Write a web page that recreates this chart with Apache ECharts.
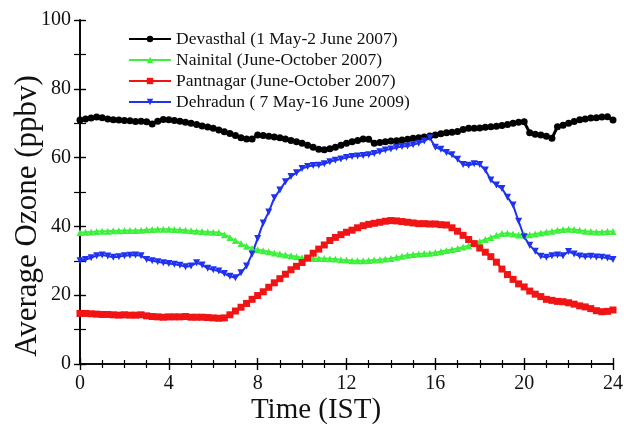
<!DOCTYPE html>
<html>
<head>
    <meta charset="UTF-8">
    <script src="https://cdn.jsdelivr.net/npm/echarts@6/dist/echarts.min.js"></script>
    <style>
        html, body { margin: 0; padding: 0; background: #fff; }
    </style>
</head>
<body>
<div id="main" style="width: 626px;height:427px;"></div>
<script>
    // time of day (IST), quarter-hour steps
    var hours = [0, 0.25, 0.5, 0.75, 1, 1.25, 1.5, 1.75, 2, 2.25, 2.5, 2.75, 3, 3.25, 3.5, 3.75,
        4, 4.25, 4.5, 4.75, 5, 5.25, 5.5, 5.75, 6, 6.25, 6.5, 6.75, 7, 7.25, 7.5, 7.75,
        8, 8.25, 8.5, 8.75, 9, 9.25, 9.5, 9.75, 10, 10.25, 10.5, 10.75, 11, 11.25, 11.5, 11.75,
        12, 12.25, 12.5, 12.75, 13, 13.25, 13.5, 13.75, 14, 14.25, 14.5, 14.75, 15, 15.25, 15.5, 15.75,
        16, 16.25, 16.5, 16.75, 17, 17.25, 17.5, 17.75, 18, 18.25, 18.5, 18.75, 19, 19.25, 19.5, 19.75,
        20, 20.25, 20.5, 20.75, 21, 21.25, 21.5, 21.75, 22, 22.25, 22.5, 22.75, 23, 23.25, 23.5, 23.75, 24];

    var devasthal = [70.9, 71.2, 71.5, 71.8, 71.6, 71.2, 71.0, 70.9, 70.8, 70.7, 70.5, 70.6, 70.4, 69.8, 70.6, 71.1,
        71.0, 70.8, 70.6, 70.3, 70.0, 69.6, 69.2, 68.9, 68.5, 68.0, 67.5, 67.0, 66.4, 65.8, 65.4, 65.4,
        66.6, 66.4, 66.2, 66.0, 65.8, 65.4, 65.0, 64.6, 64.2, 63.6, 63.0, 62.4, 62.3, 62.6, 63.0, 63.6,
        64.2, 64.6, 65.0, 65.4, 65.3, 64.2, 64.4, 64.6, 64.8, 64.9, 65.1, 65.3, 65.6, 65.8, 66.0, 66.3,
        66.6, 66.9, 67.2, 67.4, 67.6, 68.2, 68.5, 68.5, 68.6, 68.8, 69.0, 69.1, 69.3, 69.6, 70.0, 70.3,
        70.4, 67.2, 66.8, 66.6, 66.2, 65.6, 69.0, 69.4, 70.0, 70.5, 71.0, 71.2, 71.5, 71.6, 71.8, 71.9, 70.9];

    var nainital = [38.2, 38.3, 38.4, 38.5, 38.6, 38.6, 38.7, 38.7, 38.8, 38.8, 38.8, 38.9, 39.0, 39.1, 39.2, 39.2,
        39.2, 39.1, 39.0, 38.9, 38.7, 38.6, 38.5, 38.4, 38.3, 38.2, 37.6, 36.8, 35.9, 35.0, 34.2, 33.6,
        33.2, 32.9, 32.6, 32.3, 32.0, 31.7, 31.5, 31.2, 30.9, 30.8, 30.7, 30.7, 30.7, 30.6, 30.5, 30.3,
        30.2, 30.0, 30.0, 30.0, 30.1, 30.2, 30.3, 30.5, 30.7, 31.0, 31.3, 31.6, 31.8, 32.0, 32.1, 32.2,
        32.4, 32.7, 33.0, 33.3, 33.6, 34.0, 34.4, 35.0, 35.6, 36.2, 36.8, 37.4, 37.9, 38.0, 37.8, 37.5,
        37.5, 37.6, 37.8, 38.1, 38.4, 38.6, 38.9, 39.1, 39.2, 39.1, 38.9, 38.6, 38.5, 38.4, 38.4, 38.5, 38.5];

    var pantnagar = [14.7, 14.7, 14.6, 14.5, 14.4, 14.4, 14.3, 14.2, 14.3, 14.2, 14.2, 14.3, 14.0, 13.8, 13.7, 13.6,
        13.7, 13.7, 13.7, 13.8, 13.6, 13.6, 13.6, 13.5, 13.4, 13.3, 13.4, 14.3, 15.4, 16.5, 17.6, 18.8,
        19.9, 21.0, 22.3, 23.6, 24.8, 26.1, 27.4, 28.4, 29.5, 30.8, 32.2, 33.4, 34.6, 35.9, 36.8, 37.6,
        38.3, 38.9, 39.6, 40.2, 40.6, 40.9, 41.2, 41.5, 41.7, 41.6, 41.4, 41.2, 41.0, 40.8, 40.8, 40.7,
        40.7, 40.5, 40.4, 39.6, 38.6, 37.4, 36.2, 35.0, 33.7, 32.5, 31.2, 29.6, 27.6, 26.0, 24.6, 23.3,
        22.4, 21.2, 20.3, 19.6, 18.8, 18.5, 18.2, 18.1, 17.8, 17.4, 16.9, 16.6, 16.1, 15.5, 15.2, 15.3, 15.7];

    var dehradun = [30.0, 30.4, 30.9, 31.5, 31.7, 31.4, 31.0, 31.2, 31.5, 31.6, 31.7, 31.5, 30.4, 30.0, 29.7, 29.4,
        29.2, 29.0, 28.7, 28.3, 28.5, 29.4, 28.8, 27.8, 27.4, 27.0, 26.3, 25.5, 25.1, 26.5, 28.5, 32.0,
        36.5, 41.0, 44.2, 48.3, 50.6, 53.0, 54.5, 55.6, 56.8, 57.4, 57.7, 57.8, 58.2, 58.8, 59.2, 59.6,
        60.0, 60.3, 60.5, 60.6, 60.8, 61.2, 61.7, 62.2, 62.5, 62.9, 63.2, 63.4, 63.7, 64.2, 64.8, 65.8,
        63.0, 62.4, 61.5, 60.8, 59.5, 58.0, 57.8, 58.2, 58.0, 56.4, 53.5, 52.0, 51.0, 48.5, 46.2, 41.5,
        37.0, 34.5, 32.8, 31.3, 31.0, 31.5, 31.7, 31.5, 32.7, 32.0, 31.4, 31.2, 31.3, 31.1, 31.0, 30.8, 30.4];

    var seriesNames = ['Devasthal (1 May-2 June 2007)', 'Nainital (June-October 2007)',
        'Pantnagar (June-October 2007)', 'Dehradun ( 7 May-16 June 2009)'];

    function pairs(vals) {
        return vals.map(function (v, i) { return [hours[i], v]; });
    }

    var font = 'Liberation Serif';
    var downTri = 'path://M0,0 L10,0 L5,9 Z';

    var axisCommon = {
        type: 'value',
        axisLine: {show: true, lineStyle: {color: '#000', width: 1.6}},
        axisTick: {show: true, inside: true, length: 6, lineStyle: {color: '#000', width: 1.4}},
        minorTick: {show: true, length: 4, lineStyle: {color: '#000', width: 1.2}},
        splitLine: {show: false}
    };

    var myChart = echarts.init(document.getElementById('main'));
    var option = {
        animation: false,
        backgroundColor: '#fff',
        grid: {left: 80, right: 11, top: 20, bottom: 63},
        legend: {
            orient: 'vertical',
            left: 123,
            top: 25,
            itemWidth: 42,
            itemHeight: 8,
            itemGap: 3,
            textStyle: {fontFamily: font, fontSize: 17.5, color: '#111'},
            data: seriesNames
        },
        graphic: [
            {
                type: 'text', x: 316, y: 410,
                style: {text: 'Time (IST)', font: '29px "Liberation Serif"', fill: '#111',
                    textAlign: 'center', textVerticalAlign: 'middle'}
            },
            {
                type: 'text', x: 28, y: 216, rotation: Math.PI / 2,
                style: {text: 'Average Ozone (ppbv)', font: '31px "Liberation Serif"', fill: '#111',
                    textAlign: 'center', textVerticalAlign: 'middle'}
            }
        ],
        xAxis: [
            Object.assign({}, axisCommon, {
                min: 0, max: 24, interval: 4,
                minorTick: Object.assign({}, axisCommon.minorTick, {splitNumber: 4}),
                axisLabel: {fontFamily: font, fontSize: 20, color: '#111', margin: 10}
            }),
            Object.assign({}, axisCommon, {
                position: 'top',
                min: 0, max: 24, interval: 4,
                minorTick: Object.assign({}, axisCommon.minorTick, {splitNumber: 4}),
                axisLabel: {show: false}
            })
        ],
        yAxis: [
            Object.assign({}, axisCommon, {
                min: 0, max: 100, interval: 20,
                minorTick: Object.assign({}, axisCommon.minorTick, {splitNumber: 2, length: 6}),
                axisLabel: {fontFamily: font, fontSize: 20, color: '#111', margin: 9}
            }),
            Object.assign({}, axisCommon, {
                position: 'right',
                min: 0, max: 100, interval: 20,
                minorTick: Object.assign({}, axisCommon.minorTick, {splitNumber: 2, length: 6}),
                axisLabel: {show: false}
            })
        ],
        series: [
            {
                name: seriesNames[0], type: 'line', data: pairs(devasthal),
                symbol: 'circle', symbolSize: 7,
                itemStyle: {color: '#000'}, lineStyle: {color: '#000', width: 3}
            },
            {
                name: seriesNames[1], type: 'line', data: pairs(nainital),
                symbol: 'triangle', symbolSize: 7,
                itemStyle: {color: '#3cf03c'}, lineStyle: {color: '#3cf03c', width: 2}
            },
            {
                name: seriesNames[2], type: 'line', data: pairs(pantnagar),
                symbol: 'rect', symbolSize: 7,
                itemStyle: {color: '#f01414'}, lineStyle: {color: '#f01414', width: 2}
            },
            {
                name: seriesNames[3], type: 'line', data: pairs(dehradun),
                symbol: downTri, symbolSize: 7,
                itemStyle: {color: '#1e32f0'}, lineStyle: {color: '#1e32f0', width: 2}
            }
        ]
    };
    myChart.setOption(option);
</script>
</body>
</html>
